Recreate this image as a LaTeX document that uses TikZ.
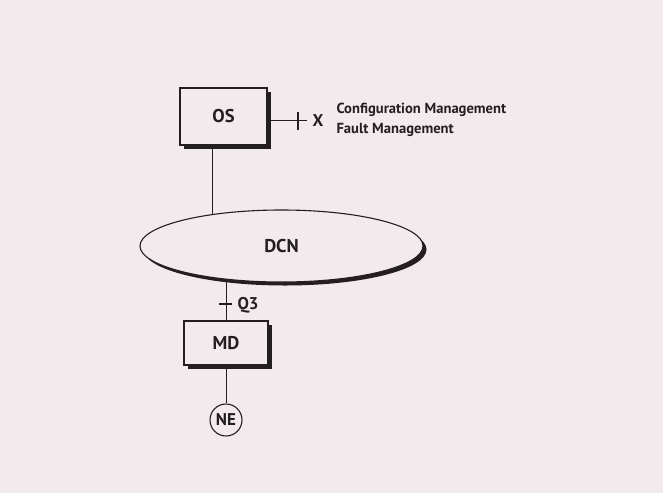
\documentclass[tikz,border=0pt]{standalone}
\usepackage{fontspec}
\setmainfont{PT Sans}
\usetikzlibrary{shapes.geometric,shadows,backgrounds}
\definecolor{paper}{RGB}{243,234,237}
\definecolor{ink}{RGB}{35,30,32}

\tikzset{
  shade/.style={drop shadow={shadow xshift=3.5pt,shadow yshift=-3.5pt,fill=ink,opacity=1}},
  box/.style={draw=ink,fill=paper,shade,font=\bfseries\fontsize{18.5}{20}\selectfont,text=ink},
  lbl/.style={font=\bfseries\fontsize{17}{20}\selectfont,text=ink},
  note/.style={font=\bfseries\fontsize{14.6}{20}\selectfont,text=ink}
}

\begin{document}
\begin{tikzpicture}[x=1pt,y=-1pt,line width=1.1pt]

\useasboundingbox (0,0) rectangle (663,493);

% operations system
\node[box,minimum width=87pt,minimum height=57pt] (OS) at (223.5,116.5) {OS};

% data communication network
\node[box,ellipse,minimum width=283pt,minimum height=72pt] (DCN) at (281.5,246) {DCN};

% mediation device and network element
\node[box,minimum width=84pt,minimum height=44pt] (MD) at (226,343) {MD};
\node[draw=ink,fill=paper,circle,minimum size=32pt,inner sep=0pt,lbl] (NE) at (226,420) {NE};

% X interface
\coordinate (xend) at (307,120.5);
\draw[ink] ([yshift=-4pt]OS.east) -- (xend);
\draw[ink] (298,112) -- (298,130);
\node[lbl] (X) at (318,121) {X};
\node[note,anchor=west,align=left,inner sep=0pt] (functions) at (336,120) {Configuration Management\\Fault Management};

% Q3 interface
\coordinate (qtick) at (226,304);
\draw[ink] ([xshift=-7pt]qtick) -- ([xshift=6pt]qtick);
\node[lbl,anchor=west,inner sep=0pt] (Q3) at (237,305) {Q3};

\begin{scope}[on background layer]
\fill[paper] (0,0) rectangle (663,493);
\draw[ink] ([xshift=-11.5pt]OS.south) -- ([xshift=-11.5pt]OS.south |- DCN.center);
\draw[ink] (MD.north) -- (MD.north |- DCN.center);
\draw[ink] (MD.south) -- (NE.north);
\end{scope}

\end{tikzpicture}
\end{document}
